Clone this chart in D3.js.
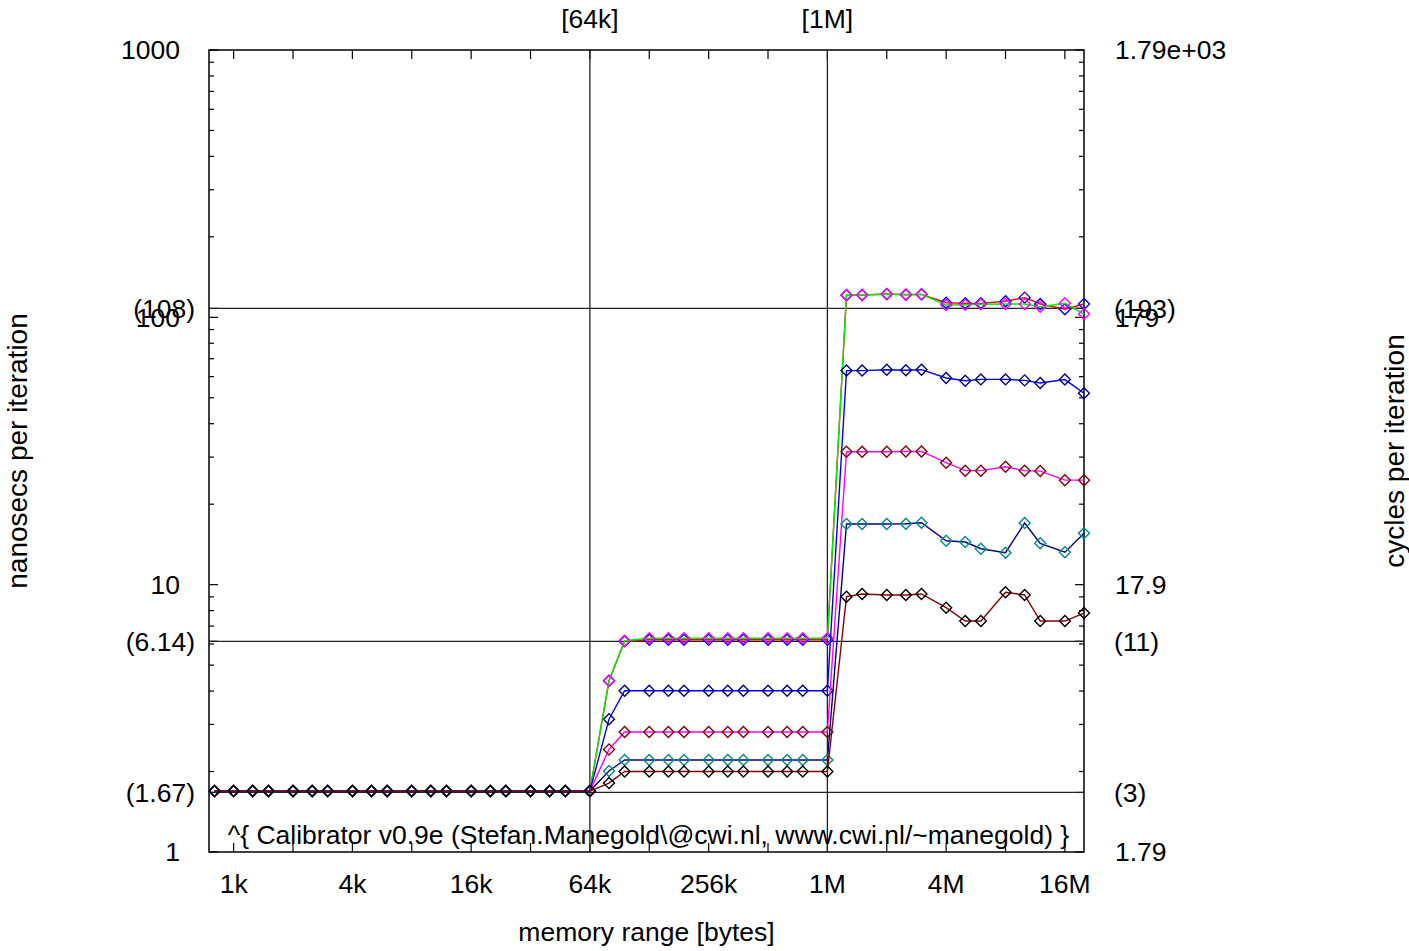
<!DOCTYPE html>
<html>
<head>
<meta charset="utf-8">
<script src="https://cdn.jsdelivr.net/npm/d3@7"></script>
<style>
  html, body { margin: 0; padding: 0; background: #fff; }
  svg { display: block; }
  text { font-family: "Liberation Sans", Arial, sans-serif; fill: #000; }
</style>
</head>
<body>
<svg id="chart" width="1409" height="951"></svg>
<script>
// ---- data ----
const sizesK = [0.8, 1, 1.25, 1.5, 2, 2.5, 3, 4, 5, 6, 8, 10, 12, 16, 20, 24, 32, 40, 48, 64,
  80, 96, 128, 160, 192, 256, 320, 384, 512, 640, 768, 1024,
  1280, 1536, 2048, 2560, 3072, 4096, 5120, 6144, 8192, 10240, 12288, 16384, 20480];

const s1 = [1.69,1.69,1.69,1.69,1.69,1.69,1.69,1.69,1.69,1.69,1.69,1.69,1.69,1.69,1.69,1.69,1.69,1.69,1.69,1.69,
  4.37, 6.14, 6.22, 6.22, 6.22, 6.22, 6.22, 6.22, 6.22, 6.22, 6.22, 6.22,
  120.9, 121.2, 122.3, 121.5, 121.9, 113.4, 112.8, 112.8, 114.8, 118.5, 112.2, 107.2, 112.2];
const s2 = [1.69,1.69,1.69,1.69,1.69,1.69,1.69,1.69,1.69,1.69,1.69,1.69,1.69,1.69,1.69,1.69,1.69,1.69,1.69,1.69,
  4.37, 6.17, 6.3, 6.3, 6.3, 6.3, 6.3, 6.3, 6.3, 6.3, 6.3, 6.3,
  121.2, 121.2, 122.0, 121.8, 121.8, 111.2, 111.5, 112.0, 112.2, 112.2, 109.6, 112.8, 102.9];
const s3 = [1.69,1.69,1.69,1.69,1.69,1.69,1.69,1.69,1.69,1.69,1.69,1.69,1.69,1.69,1.69,1.69,1.69,1.69,1.69,1.69,
  3.14, 4.01, 4.01, 4.01, 4.01, 4.01, 4.01, 4.01, 4.01, 4.01, 4.01, 4.01,
  63.2, 63.2, 63.7, 63.4, 63.7, 59.3, 57.9, 58.6, 58.6, 58.1, 56.8, 58.5, 52.0];
const s4 = [1.69,1.69,1.69,1.69,1.69,1.69,1.69,1.69,1.69,1.69,1.69,1.69,1.69,1.69,1.69,1.69,1.69,1.69,1.69,1.69,
  2.42, 2.81, 2.81, 2.81, 2.81, 2.81, 2.81, 2.81, 2.81, 2.81, 2.81, 2.81,
  31.4, 31.4, 31.4, 31.5, 31.5, 28.6, 26.7, 26.7, 27.6, 26.7, 26.6, 24.6, 24.6];
const s5 = [1.69,1.69,1.69,1.69,1.69,1.69,1.69,1.69,1.69,1.69,1.69,1.69,1.69,1.69,1.69,1.69,1.69,1.69,1.69,1.69,
  2.01, 2.21, 2.21, 2.21, 2.21, 2.21, 2.21, 2.21, 2.21, 2.21, 2.21, 2.21,
  16.87, 16.87, 16.87, 16.9, 17.05, 14.6, 14.44, 13.63, 13.17, 17.0, 14.28, 13.22, 15.56];
const s6 = [1.69,1.69,1.69,1.69,1.69,1.69,1.69,1.69,1.69,1.69,1.69,1.69,1.69,1.69,1.69,1.69,1.69,1.69,1.69,1.69,
  1.81, 2.0, 2.0, 2.0, 2.0, 2.0, 2.0, 2.0, 2.0, 2.0, 2.0, 2.0,
  9.02, 9.23, 9.15, 9.15, 9.23, 8.2, 7.31, 7.31, 9.36, 9.15, 7.31, 7.31, 7.83];

const seriesValues = [s1, s2, s3, s4, s5, s6];
const lineColors   = ["#ff0000", "#00ee00", "#0000ff", "#ff00ff", "#00008b", "#8b0000"];
const markerColors = ["#0000ff", "#ff00ff", "#00008b", "#8b0000", "#008b8b", "#000000"];

const xTickValues = [1024, 4096, 16384, 65536, 262144, 1048576, 4194304, 16777216];
const xTickLabels = ["1k", "4k", "16k", "64k", "256k", "1M", "4M", "16M"];

const yTickValues = [1, 10, 100, 1000];
const yTickLabels = ["1", "10", "100", "1000"];
const yCycleLabels = ["1.79", "17.9", "179", "1.79e+03"];

const markNs = [1.67, 6.14, 108];
const markNsLabels = ["(1.67)", "(6.14)", "(108)"];
const markCyLabels = ["(3)", "(11)", "(193)"];

const markSizes = [65536, 1048576];
const markSizeLabels = ["[64k]", "[1M]"];

const caption = "^{ Calibrator v0.9e (Stefan.Manegold\\@cwi.nl, www.cwi.nl/~manegold) }";

// ---- layout ----
const L = 209, R = 1084, T = 50, B = 852;
const FS = 26.5;
const FSR = 28;

const svg = d3.select("#chart");
const x = d3.scaleLog().domain([768, 20971520]).range([L, R]);
const y = d3.scaleLog().domain([1, 1000]).range([B, T]);

// minor y ticks (2..9 per decade)
const yMinor = [];
for (let d = 1; d < 1000; d *= 10) for (let k = 2; k <= 9; k++) yMinor.push(d * k);
// x ticks every octave
const xOct = [];
for (let v = 1024; v <= 20971520; v *= 2) xOct.push(v);

const g = svg.append("g");

// ticks
const tk = g.append("g").attr("stroke", "#000").attr("stroke-width", 1.2);
xOct.forEach(v => {
  tk.append("line").attr("x1", x(v)).attr("x2", x(v)).attr("y1", B).attr("y2", B - 9);
  tk.append("line").attr("x1", x(v)).attr("x2", x(v)).attr("y1", T).attr("y2", T + 9);
});
yMinor.forEach(v => {
  tk.append("line").attr("x1", L).attr("x2", L + 5).attr("y1", y(v)).attr("y2", y(v));
  tk.append("line").attr("x1", R).attr("x2", R - 5).attr("y1", y(v)).attr("y2", y(v));
});
yTickValues.concat(markNs).forEach(v => {
  tk.append("line").attr("x1", L).attr("x2", L + 9).attr("y1", y(v)).attr("y2", y(v));
  tk.append("line").attr("x1", R).attr("x2", R - 9).attr("y1", y(v)).attr("y2", y(v));
});

// reference lines
const ref = g.append("g").attr("stroke", "#222").attr("stroke-width", 1.3);
markNs.forEach(v => ref.append("line").attr("x1", L).attr("x2", R).attr("y1", y(v)).attr("y2", y(v)));
markSizes.forEach(v => ref.append("line").attr("x1", x(v)).attr("x2", x(v)).attr("y1", T).attr("y2", B));

// frame
g.append("rect").attr("x", L).attr("y", T).attr("width", R - L).attr("height", B - T)
  .attr("fill", "none").attr("stroke", "#000").attr("stroke-width", 1.5);

// caption
g.append("text").attr("x", (L + R) / 2 + 2).attr("y", 835).attr("dy", "0.35em")
  .attr("text-anchor", "middle").attr("font-size", FS).text(caption);

// series
const line = d3.line().x((d, i) => x(sizesK[i] * 1024)).y(d => y(d));
const diamond = "M0,-5.5L5.5,0L0,5.5L-5.5,0Z";
seriesValues.forEach((vals, si) => {
  const sg = g.append("g");
  sg.append("path").datum(vals).attr("d", line).attr("fill", "none")
    .attr("stroke", lineColors[si]).attr("stroke-width", 1.4);
  sg.selectAll("path.m").data(vals).enter().append("path").attr("class", "m")
    .attr("d", diamond)
    .attr("transform", (d, i) => `translate(${x(sizesK[i] * 1024)},${y(d)})`)
    .attr("fill", "none").attr("stroke", markerColors[si]).attr("stroke-width", 1.4);
});

// y labels (left: ns, right: cycles)
yTickValues.forEach((v, i) => {
  g.append("text").attr("x", 180).attr("y", y(v)).attr("dy", "0.35em")
    .attr("text-anchor", "end").attr("font-size", FS).text(yTickLabels[i]);
  g.append("text").attr("x", 1115).attr("y", y(v)).attr("dy", "0.35em")
    .attr("text-anchor", "start").attr("font-size", FS).text(yCycleLabels[i]);
});
markNs.forEach((v, i) => {
  g.append("text").attr("x", 195).attr("y", y(v)).attr("dy", "0.35em")
    .attr("text-anchor", "end").attr("font-size", FS).text(markNsLabels[i]);
  g.append("text").attr("x", 1114).attr("y", y(v)).attr("dy", "0.35em")
    .attr("text-anchor", "start").attr("font-size", FS).text(markCyLabels[i]);
});

// x labels
xTickValues.forEach((v, i) => {
  g.append("text").attr("x", x(v)).attr("y", 884).attr("dy", "0.35em")
    .attr("text-anchor", "middle").attr("font-size", FS).text(xTickLabels[i]);
});
markSizes.forEach((v, i) => {
  g.append("text").attr("x", x(v)).attr("y", 19).attr("dy", "0.35em")
    .attr("text-anchor", "middle").attr("font-size", FS).text(markSizeLabels[i]);
});

// axis titles
g.append("text").attr("x", (L + R) / 2).attr("y", 932).attr("dy", "0.35em")
  .attr("text-anchor", "middle").attr("font-size", FS).text("memory range [bytes]");
g.append("text").attr("transform", `translate(17,${(T + B) / 2}) rotate(-90)`).attr("dy", "0.35em")
  .attr("text-anchor", "middle").attr("font-size", FSR).text("nanosecs per iteration");
g.append("text").attr("transform", `translate(1394,${(T + B) / 2}) rotate(-90)`).attr("dy", "0.35em")
  .attr("text-anchor", "middle").attr("font-size", FSR).text("cycles per iteration");
</script>
</body>
</html>
